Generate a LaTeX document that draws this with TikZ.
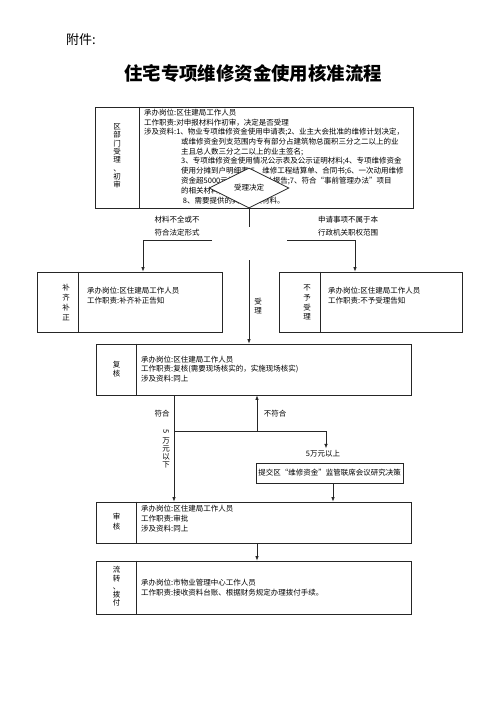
\documentclass[tikz,border=0pt]{standalone}
\usepackage{fontspec}
\setmainfont{Noto Sans CJK SC}
\usetikzlibrary{shapes.geometric,arrows.meta}
\newcommand\tightlines{\lineskiplimit=-20pt\relax\lineskip=0pt\relax}

\begin{document}
\begin{tikzpicture}[x=1pt, y=-1pt,
    every node/.style={inner sep=0pt, font=\fontsize{7.5}{9.8}\selectfont},
    box/.style={draw=black!85, line width=0.8pt},
    line/.style={draw=black!85, line width=0.7pt},
    arr/.style={line, -{Latex[length=4.5pt,width=3.5pt]}},
    txt/.style={anchor=west},
    vlab/.style={align=center, font={\fontsize{7.5}{#1}\selectfont\tightlines}},
    vlab/.default=9]

  \useasboundingbox (0,0) rectangle (500,707);

  % Title
  \node[anchor=west, font=\fontsize{13}{13}\selectfont] (att) at (66,40) {附件:};
  \node[font=\fontsize{18.4}{18.4}\selectfont\bfseries] (title) at (253,73) {住宅专项维修资金使用核准流程};

  % Boxes
  \node[box, minimum width=318, minimum height=101] (fa) at (254,157.5) {};
  \node[box, minimum width=185, minimum height=60] (bq) at (129.5,302) {};
  \node[box, minimum width=183, minimum height=60] (by) at (370.5,302) {};
  \node[box, minimum width=315, minimum height=51] (fh) at (253.5,369.5) {};
  \node[box, minimum width=315, minimum height=41] (sh) at (253.5,522.5) {};
  \node[box, minimum width=315, minimum height=53] (lz) at (253.5,587.5) {};

  % Dividers
  \draw[line] ([xshift=45pt]fa.north west) -- ([xshift=45pt]fa.south west);
  \draw[line] ([xshift=42pt]bq.north west) -- ([xshift=42pt]bq.south west);
  \draw[line] ([xshift=42pt]by.north west) -- ([xshift=42pt]by.south west);
  \foreach \b in {fh,sh,lz} {
    \draw[line] ([xshift=41pt]\b.north west) -- ([xshift=41pt]\b.south west);
  }

  % Left column labels
  \node[vlab=8.3] (lfa) at (117,156) {区\\部\\门\\受\\理\\、\\初\\审};
  \node[vlab=9.7] (lbq) at (66,302.5) {补\\齐\\补\\正};
  \node[vlab=9.7] (lby) at (307,302.5) {不\\予\\受\\理};
  \node[vlab] (lfh) at (116.5,369.5) {复\\核};
  \node[vlab=10] (lsh) at (116.5,522) {审\\核};
  \node[vlab=8.3] (llz) at (116.5,586.5) {流\\转\\、\\拨\\付};

  % Texts of the first box
  \foreach \t [count=\i from 0] in {承办岗位:区住建局工作人员,
      工作职责:对申报材料作初审，决定是否受理,
      涉及资料:1、物业专项维修资金使用申请表;2、业主大会批准的维修计划决定，} {
    \node[txt] (fa\i) at (144,113+\i*9.7) {\t};
  }
  \foreach \t [count=\i from 3] in {或维修资金列支范围内专有部分占建筑物总面积三分之二以上的业,
      主且总人数三分之二以上的业主签名;,
      3、专项维修资金使用情况公示表及公示证明材料;4、专项维修资金,
      使用分摊到户明细表;5、维修工程结算单、合同书;6、一次动用维修,
      资金超5000元的需提供审计报告;7、符合“事前管理办法”项目,
      的相关材料;,
      \ 8、需要提供的其他相关材料。} {
    \node[txt] (fa\i) at (181,113+\i*9.7) {\t};
  }

  % Decision
  \node[diamond, box, fill=white, minimum width=80, minimum height=40] (dec) at (249,188) {受理决定};

  % Side box texts
  \node[txt] (bq1) at (87,291) {承办岗位:区住建局工作人员};
  \node[txt] (bq2) at (87,301) {工作职责:补齐补正告知};
  \node[txt] (by1) at (328,291) {承办岗位:区住建局工作人员};
  \node[txt] (by2) at (328,301) {工作职责:不予受理告知};

  % Other box texts
  \node[txt] (fh1) at (141,360) {承办岗位:区住建局工作人员};
  \node[txt] (fh2) at (141,369.5) {工作职责:复核(需要现场核实的，实施现场核实)};
  \node[txt] (fh3) at (141,379) {涉及资料:同上};
  \node[txt] (sh1) at (141,509) {承办岗位:区住建局工作人员};
  \node[txt] (sh2) at (141,519) {工作职责:审批};
  \node[txt] (sh3) at (141,529) {涉及资料:同上};
  \node[txt] (lz1) at (141,583) {承办岗位:市物业管理中心工作人员};
  \node[txt] (lz2) at (141,593) {工作职责:接收资料台账、根据财务规定办理拨付手续。};

  % Branch labels
  \node[vlab=13] (nq) at (177,226.5) {材料不全或不\\符合法定形式};
  \node[vlab=13] (ny) at (348,226.5) {申请事项不属于本\\行政机关职权范围};
  \node[vlab] (acc) at (258,306.5) {受\\理};

  % Accept line
  \coordinate (dgap) at (249,227);
  \coordinate (dgo) at (249,260);
  \draw[line] (dec.south) -- (dgap);
  \draw[arr] (dgo) -- (dgo |- fh.north);

  % Side branches
  \coordinate (ll) at (212,240);
  \coordinate (rl) at (287,240);
  \draw[arr] (ll) -| ([xshift=13.5pt]bq.north);
  \draw[arr] (rl) -| ([xshift=-15.5pt]by.north);

  % Below review
  \coordinate (fork) at (174,431);
  \coordinate (forkr) at (326,431);
  \coordinate (back) at (257,431);
  \node (ok) at (162,414) {符合};
  \node (nok) at (275,414) {不符合};
  \node[vlab=8] (low) at (166,449) {\rotatebox[origin=c]{-90}{5}\\[1pt]万\\元\\以\\下};
  \node (over) at (323,454) {5万元以上};
  \node[box, minimum width=147, minimum height=20] (ext) at (329.5,473) {提交区“维修资金”监管联席会议研究决策};

  \draw[arr] (fork |- fh.south) -- (fork |- sh.north);
  \draw[line] (fork) -- (forkr);
  \draw[arr] (back) -- (back |- fh.south);
  \draw[arr] (forkr) -- ([yshift=2pt]forkr |- over.north);
  \draw[arr] ([xshift=3.5pt]ext.south) -- ([xshift=3.5pt]ext.south |- sh.north);
  \draw[arr] ([xshift=3.5pt]sh.south) -- ([xshift=3.5pt]lz.north);

\end{tikzpicture}
\end{document}
